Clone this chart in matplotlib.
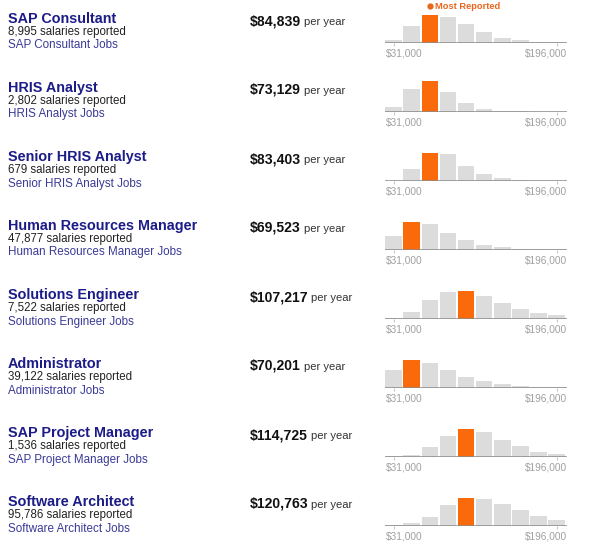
import numpy as np
import matplotlib as mpl
mpl.use('Agg')
import matplotlib.pyplot as plt

plt.rcParams['font.family'] = ['Liberation Sans', 'DejaVu Sans']

titles = ["SAP Consultant", "HRIS Analyst", "Senior HRIS Analyst",
          "Human Resources Manager", "Solutions Engineer", "Administrator",
          "SAP Project Manager", "Software Architect"]
n_reported = [8995, 2802, 679, 47877, 7522, 39122, 1536, 95786]
avg_salary = [84839, 73129, 83403, 69523, 107217, 70201, 114725, 120763]

# salary bins: 10 bins, first centred on $31,000, last on $196,000
bin_lo, bin_hi = 31000, 196000
# bar heights (relative units)
hist = [
    [9, 50, 83, 78, 55, 32, 15, 7, 2, 1],
    [13, 68, 91, 58, 25, 8, 3, 1, 0, 0],
    [0, 36, 83, 79, 45, 20, 7, 2, 0, 0],
    [42, 84, 77, 49, 28, 14, 9, 3, 2, 1],
    [1, 19, 55, 80, 83, 67, 47, 28, 17, 12],
    [54, 83, 75, 53, 33, 20, 11, 6, 3, 2],
    [1, 6, 30, 63, 82, 74, 51, 33, 15, 9],
    [1, 7, 25, 61, 83, 81, 64, 46, 28, 17],
]

W, H = 602, 550
fig = plt.figure(figsize=(W / 100, H / 100), dpi=100)
fig.patch.set_facecolor('white')

# text layer in pixel coordinates
bg = fig.add_axes([0, 0, 1, 1])
bg.set_xlim(0, W)
bg.set_ylim(H, 0)
bg.axis('off')

title_c = '#1c1c88'
link_c = '#3a3a98'
orange = '#fa6a0a'
grey_bar = '#dcdcdc'

row_h = 69.0
centers = np.linspace(bin_lo, bin_hi, len(hist[0]))
step = centers[1] - centers[0]
px = 1018.5  # dollars per pixel in the histograms

for k, name in enumerate(titles):
    dy = row_h * k
    bg.text(8, 23.2 + dy, name, fontsize=10.4, fontweight='bold',
            color=title_c, va='baseline')
    bg.text(8, 34.6 + dy, "{:,} salaries reported".format(n_reported[k]),
            fontsize=8.3, color='#222222', va='baseline')
    bg.text(8, 48.5 + dy, name + " Jobs", fontsize=8.4, color=link_c,
            va='baseline')
    t = bg.text(249.5, 25 + dy, "${:,}".format(avg_salary[k]), fontsize=10.1,
                fontweight='bold', color='#111111', va='baseline')
    bg.annotate("per year", xy=(1, 0), xycoords=t, xytext=(2.4, 0.4),
                textcoords='offset points', fontsize=8.1, color='#333333',
                va='bottom')

    # histogram
    base = 42.7 + dy
    ax = fig.add_axes([385 / W, 1 - base / H, 182 / W, 35 / H])
    ax.set_xlim(bin_lo - 8.5 * px, bin_hi + 10.2 * px)
    ax.set_ylim(0, 105)
    vals = hist[k]
    mode = int(np.argmax(vals))
    cols = [orange if i == mode else grey_bar for i in range(len(vals))]
    ax.bar(centers, vals, width=step * 0.91, color=cols, linewidth=0)
    ax.axhline(0, color='#8a8a8a', linewidth=1.1)
    for s in ax.spines.values():
        s.set_visible(False)
    ax.set_yticks([])
    ax.set_xticks([bin_lo, bin_hi])
    ax.set_xticklabels(['', ''])
    ax.tick_params(axis='x', length=2.5, width=0.8, color='#c8c8c8', pad=0)
    ax.patch.set_alpha(0)
    ax.text(0.003, -0.30, "${:,}".format(bin_lo), transform=ax.transAxes,
            fontsize=7.3, color='#a0a0a0', ha='left', va='center')
    ax.text(1.0, -0.30, "${:,}".format(bin_hi), transform=ax.transAxes,
            fontsize=7.3, color='#a0a0a0', ha='right', va='center')

    if k == 0:
        ax.plot([centers[mode]], [110], 'o', color='#e8661c', markersize=3.5,
                clip_on=False)
        ax.annotate("Most Reported", xy=(centers[mode], 110),
                    xytext=(3.5, 0), textcoords='offset points',
                    fontsize=6.7, fontweight='bold', color='#e8661c',
                    va='center', ha='left', annotation_clip=False)

fig.savefig('out.png', dpi=100)
plt.close(fig)
